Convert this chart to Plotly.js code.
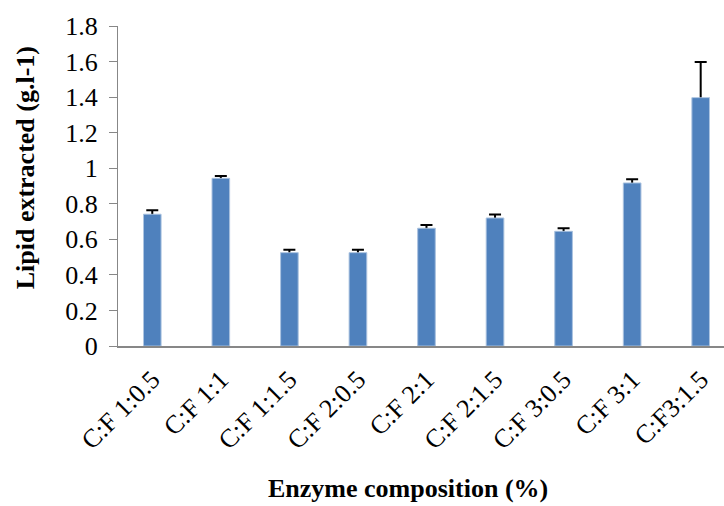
<!DOCTYPE html>
<html>
<head>
<meta charset="utf-8">
<script src="https://cdn.plot.ly/plotly-3.0.1.min.js"></script>
<style>html,body{margin:0;padding:0;background:#fff;}#chart{width:724px;height:506px;}</style>
</head>
<body>
<div id="chart"></div>
<script>
var categories = ["C:F 1:0.5", "C:F 1:1", "C:F 1:1.5", "C:F 2:0.5", "C:F 2:1", "C:F 2:1.5", "C:F 3:0.5", "C:F 3:1", "C:F3:1.5"];
var lipidValues = [0.741, 0.943, 0.525, 0.525, 0.662, 0.720, 0.645, 0.917, 1.397];
var lipidErrors = [0.022, 0.013, 0.017, 0.017, 0.019, 0.019, 0.017, 0.021, 0.200];
var yTickVals = [0, 0.2, 0.4, 0.6, 0.8, 1, 1.2, 1.4, 1.6, 1.8];
var yTickText = ["0", "0.2", "0.4", "0.6", "0.8", "1", "1.2", "1.4", "1.6", "1.8"];
var xTitle = "Enzyme composition (%)";
var yTitle = "Lipid extracted (g.l-1)";

var serif = "Liberation Serif, Times New Roman, serif";
var idx = categories.map(function(c, i){ return i; });

// bars carrying the error bars (symmetric; lower half is hidden by the overlay bars)
var errTrace = {
  type: "bar",
  x: idx,
  y: lipidValues,
  width: 0.256,
  marker: {color: "#4F81BD", line: {color: "#B9CDE5", width: 0.8}},
  error_y: {type: "data", array: lipidErrors, symmetric: true, visible: true, color: "#000000", thickness: 2, width: 6},
  hoverinfo: "none"
};
// same bars drawn on top so only the upper whisker and cap remain visible
var barTrace = {
  type: "bar",
  x: idx,
  y: lipidValues,
  width: 0.256,
  marker: {color: "#4F81BD", line: {color: "#B9CDE5", width: 0.8}},
  hoverinfo: "none"
};

var layout = {
  width: 724, height: 506,
  margin: {l: 118, r: 0, t: 26, b: 160, pad: 0},
  paper_bgcolor: "#ffffff", plot_bgcolor: "#ffffff",
  showlegend: false,
  barmode: "overlay",
  bargap: 0,
  font: {family: serif, color: "#000000"},
  xaxis: {
    range: [-0.5, 8.34],
    tickmode: "array",
    tickvals: idx,
    ticktext: categories,
    tickangle: -45,
    tickfont: {family: serif, size: 26, color: "#000"},
    ticklabelstandoff: 6,
    showline: true, linecolor: "#878787", linewidth: 2,
    ticks: "", showgrid: false, zeroline: false,
    automargin: false
  },
  yaxis: {
    range: [0, 1.8],
    tickmode: "array",
    tickvals: yTickVals,
    ticktext: yTickText,
    tickfont: {family: serif, size: 26, color: "#000"},
    ticklabelstandoff: 6,
    showline: true, linecolor: "#878787", linewidth: 1,
    ticks: "outside", ticklen: 8, tickcolor: "#878787", tickwidth: 1,
    showgrid: false, zeroline: false,
    automargin: false
  },
  annotations: [
    {text: "<b>" + xTitle + "</b>", xref: "paper", yref: "paper", x: 0.479, y: -0.497,
     xanchor: "center", yanchor: "bottom", showarrow: false,
     font: {family: serif, size: 26, color: "#000"}},
    {text: "<b>" + yTitle + "</b>", xref: "paper", yref: "paper", x: -0.152, y: 0.558,
     xanchor: "center", yanchor: "middle", textangle: -90, showarrow: false,
     font: {family: serif, size: 26, color: "#000"}}
  ]
};

Plotly.newPlot("chart", [errTrace, barTrace], layout, {staticPlot: true, displayModeBar: false});
</script>
</body>
</html>
